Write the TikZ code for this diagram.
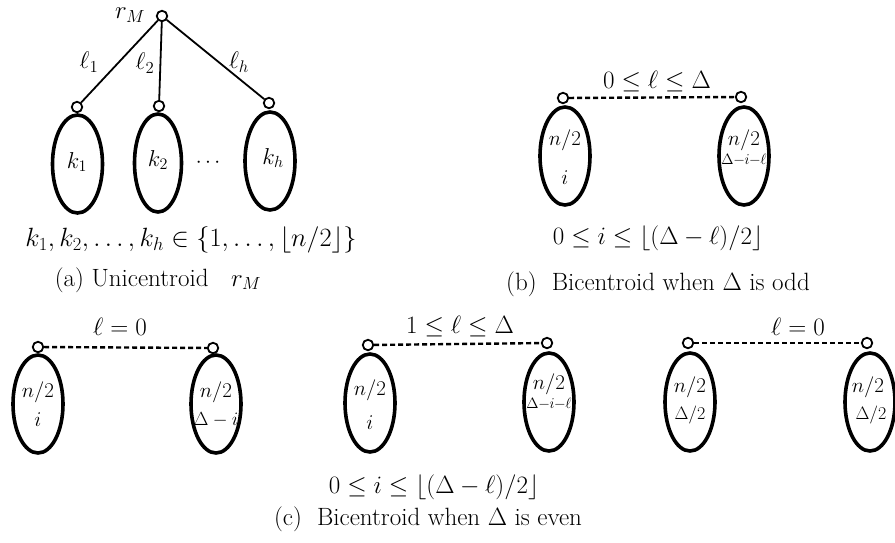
\RequirePackage{fix-cm}
\documentclass[tikz,border=0pt]{standalone}
\usetikzlibrary{shapes.geometric}
\newcommand\myfs[1]{\fontsize{#1}{#1}\selectfont}
\newcommand\dil{\Delta\mkern-4.5mu-\mkern-4.5mu i\mkern-4.5mu-\mkern-4.5mu\ell}
\begin{document}
\begin{tikzpicture}[x=1pt,y=-1pt,
  vtx/.style={circle,draw,line width=1.8pt,minimum size=10.5pt,inner sep=0pt,fill=white},
  blob/.style={ellipse,draw,line width=3.6pt,minimum width=50pt,minimum height=98pt,inner sep=0pt},
  tedge/.style={line width=1.8pt},
  dedge/.style={line width=2.4pt,dash pattern=on 5pt off 3pt},
  lab/.style={inner sep=0pt,font=\myfs{21}},
  elab/.style={inner sep=0pt,font=\myfs{25}},
  smlab/.style={inner sep=0pt,font=\myfs{15}},
  captxt/.style={inner sep=0pt,font=\myfs{25}},
  mathtxt/.style={inner sep=0pt,font=\myfs{25}}]
\useasboundingbox (0,0) rectangle (895,542);

% ---------- (a) ----------
\node[blob] (ea1) at (77.5,164) {};
\node[blob,minimum width=47pt] (ea2) at (158,163) {};
\node[blob] (ea3) at (270,161) {};
\node[vtx] (root) at (162,16) {};
\node[vtx] (ca1) at (77,107) {};
\node[vtx] (ca2) at (159,106) {};
\node[vtx] (ca3) at (269,103) {};
\draw[tedge] (root) -- (ca1);
\draw[tedge] (root) -- (ca2);
\draw[tedge] (root) -- (ca3);
\node[elab] (rM) at (130,15) {$r_M$};
\node[elab,font=\myfs{24}] (l1) at (89,62) {$\ell_1$};
\node[elab,font=\myfs{24}] (l2) at (145,63) {$\ell_2$};
\node[elab,font=\myfs{24}] (lh) at (239,62) {$\ell_h$};
\node[lab,font=\myfs{23}] (k1) at (77,162) {$k_1$};
\node[lab,font=\myfs{23}] (k2) at (158,160) {$k_2$};
\node[lab,font=\myfs{23}] (kh) at (273,158) {$k_h$};
\node[lab] (dots) at (208,163) {$\cdots$};
\node[mathtxt,font=\myfs{26.4}] (ka) at (191,240) {$k_1,k_2,\ldots,k_h\in\{1,\ldots,\lfloor n/2\rfloor\}$};
\node[captxt] (capa) at (158,280) {(a) Unicentroid\ \ \ $r_M$};

% ---------- (b) ----------
\node[blob] (eb1) at (565,156) {};
\node[blob] (eb2) at (744,156) {};
\node[vtx] (cb1) at (563,98) {};
\node[vtx] (cb2) at (741,97) {};
\draw[dedge] (cb1) -- (cb2);
\node[elab] (lb) at (657,82) {$0\leq\ell\leq\Delta$};
\node[lab] (nb1) at (565,140) {$n/2$};
\node[lab] (ib1) at (565,178) {$i$};
\node[lab] (nb2) at (744,140) {$n/2$};
\node[smlab] (db2) at (744,160) {$\dil$};
\node[mathtxt] (ib) at (658,238) {$0\leq i\leq\lfloor(\Delta-\ell)/2\rfloor$};
\node[captxt] (capb) at (658,284) {(b)\ \ Bicentroid when $\Delta$ is odd};

% ---------- (c) ----------
\node[blob] (ec1) at (38,404) {};
\node[blob] (ec2) at (216,404) {};
\node[vtx] (cc1) at (38,347) {};
\node[vtx] (cc2) at (213,348) {};
\draw[dedge] (cc1) -- (cc2);
\node[elab] (lc1) at (120,327) {$\ell=0$};
\node[lab] (nc1) at (38,392) {$n/2$};
\node[lab] (ic1) at (38,420) {$i$};
\node[lab] (nc2) at (216,392) {$n/2$};
\node[lab,font=\myfs{19}] (dc2) at (216,420) {$\Delta-i$};

\node[blob] (ec3) at (370,403) {};
\node[blob] (ec4) at (549,402) {};
\node[vtx] (cc3) at (368,345) {};
\node[vtx] (cc4) at (547,343) {};
\draw[dedge] (cc3) -- (cc4);
\node[elab] (lc2) at (460,327) {$1\leq\ell\leq\Delta$};
\node[lab] (nc3) at (370,390) {$n/2$};
\node[lab] (ic3) at (370,423) {$i$};
\node[lab] (nc4) at (549,384) {$n/2$};
\node[smlab] (dc4) at (549,404) {$\dil$};

\node[blob] (ec5) at (690,402) {};
\node[blob] (ec6) at (870,402) {};
\node[vtx] (cc5) at (688,343) {};
\node[vtx] (cc6) at (867,343) {};
\draw[dedge] (cc5) -- (cc6);
\node[elab] (lc3) at (798,327) {$\ell=0$};
\node[lab] (nc5) at (690,387) {$n/2$};
\node[smlab,font=\myfs{18}] (dc5) at (690,415) {$\Delta/2$};
\node[lab] (nc6) at (868,387) {$n/2$};
\node[smlab,font=\myfs{18}] (dc6) at (871,415) {$\Delta/2$};

\node[mathtxt] (ic) at (434,487) {$0\leq i\leq\lfloor(\Delta-\ell)/2\rfloor$};
\node[captxt] (capc) at (428,519) {(c)\ \ Bicentroid when $\Delta$ is even};
\end{tikzpicture}
\end{document}
